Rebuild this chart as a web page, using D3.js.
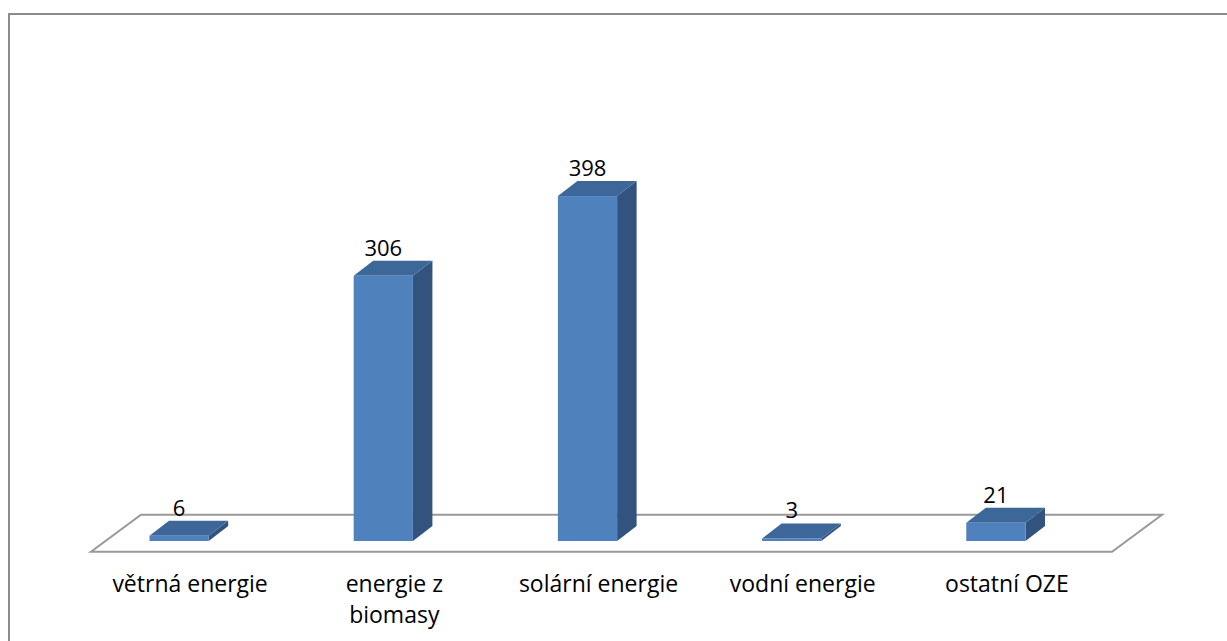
<!DOCTYPE html>
<html>
<head>
<meta charset="utf-8">
<script src="https://cdn.jsdelivr.net/npm/d3@7"></script>
<style>
  html, body { margin: 0; padding: 0; background: #fff; }
  svg { display: block; }
  text { font-family: "Open Sans", Lato, sans-serif; fill: #000; }
</style>
</head>
<body>
<svg id="chart" width="1227" height="641"></svg>
<script>
// Renewable energy sources – counts per category
const categories = ["větrná energie", "energie z biomasy", "solární energie", "vodní energie", "ostatní OZE"];
const categoryLines = [["větrná energie"], ["energie z", "biomasy"], ["solární energie"], ["vodní energie"], ["ostatní OZE"]];
const values = [6, 306, 398, 3, 21];

const W = 1227, H = 641;
const svg = d3.select("#chart");

// chart frame (runs past the right and bottom edges of the view)
svg.append("rect")
  .attr("x", 9).attr("y", 14)
  .attr("width", W + 20).attr("height", H + 20)
  .attr("fill", "#fff").attr("stroke", "#8c8c8c").attr("stroke-width", 2);

// scales
const x = d3.scaleBand().domain(categories)
  .range([77, 1098]).paddingInner(0.71).paddingOuter(0.355);
const y = d3.scaleLinear().domain([0, 450]).range([541, 151]);

// oblique depth for bars and the floor
const barDx = 19.5, barDy = -15;
const floorDx = 50, floorDy = -37;
const floorFront = y(0) + 10.7;
const floorLeft = x.range()[0] + 14;
const floorRight = x.range()[1] + 14;

// floor plane
svg.append("polygon")
  .attr("points", [
    [floorLeft, floorFront],
    [floorRight, floorFront],
    [floorRight + floorDx, floorFront + floorDy],
    [floorLeft + floorDx, floorFront + floorDy]
  ].map(p => p.join(",")).join(" "))
  .attr("fill", "#fff").attr("stroke", "#999").attr("stroke-width", 2);

const bw = x.bandwidth();
const g = svg.append("g");

const bars = g.selectAll("g.bar").data(categories.map((c, i) => ({ c, v: values[i] })))
  .join("g").attr("class", "bar");

// side face
bars.append("polygon")
  .attr("points", d => {
    const x1 = x(d.c) + bw, y0 = y(0), y1 = y(d.v);
    return [[x1, y1], [x1 + barDx, y1 + barDy], [x1 + barDx, y0 + barDy], [x1, y0]]
      .map(p => p.join(",")).join(" ");
  })
  .attr("fill", "#31537e");

// top face
bars.append("polygon")
  .attr("points", d => {
    const x0 = x(d.c), x1 = x0 + bw, y1 = y(d.v);
    return [[x0, y1], [x0 + barDx, y1 + barDy], [x1 + barDx, y1 + barDy], [x1, y1]]
      .map(p => p.join(",")).join(" ");
  })
  .attr("fill", "#3d6798");

// front face
bars.append("rect")
  .attr("x", d => x(d.c))
  .attr("y", d => y(d.v))
  .attr("width", bw)
  .attr("height", d => y(0) - y(d.v))
  .attr("fill", "#4f81bd");

// value labels
bars.append("text")
  .attr("x", d => x(d.c) + bw / 2)
  .attr("y", d => y(d.v) + barDy - 5)
  .attr("text-anchor", "middle")
  .attr("font-size", 22)
  .text(d => d.v);

// category labels
const labels = svg.selectAll("text.cat").data(categories)
  .join("text").attr("class", "cat")
  .attr("x", c => x(c) + bw / 2 + 11)
  .attr("y", 592)
  .attr("text-anchor", "middle")
  .attr("font-size", 23);
labels.each(function (c, i) {
  d3.select(this).selectAll("tspan").data(categoryLines[i]).join("tspan")
    .attr("x", x(c) + bw / 2 + 11)
    .attr("dy", (l, j) => j === 0 ? 0 : 31)
    .text(l => l);
});
</script>
</body>
</html>
